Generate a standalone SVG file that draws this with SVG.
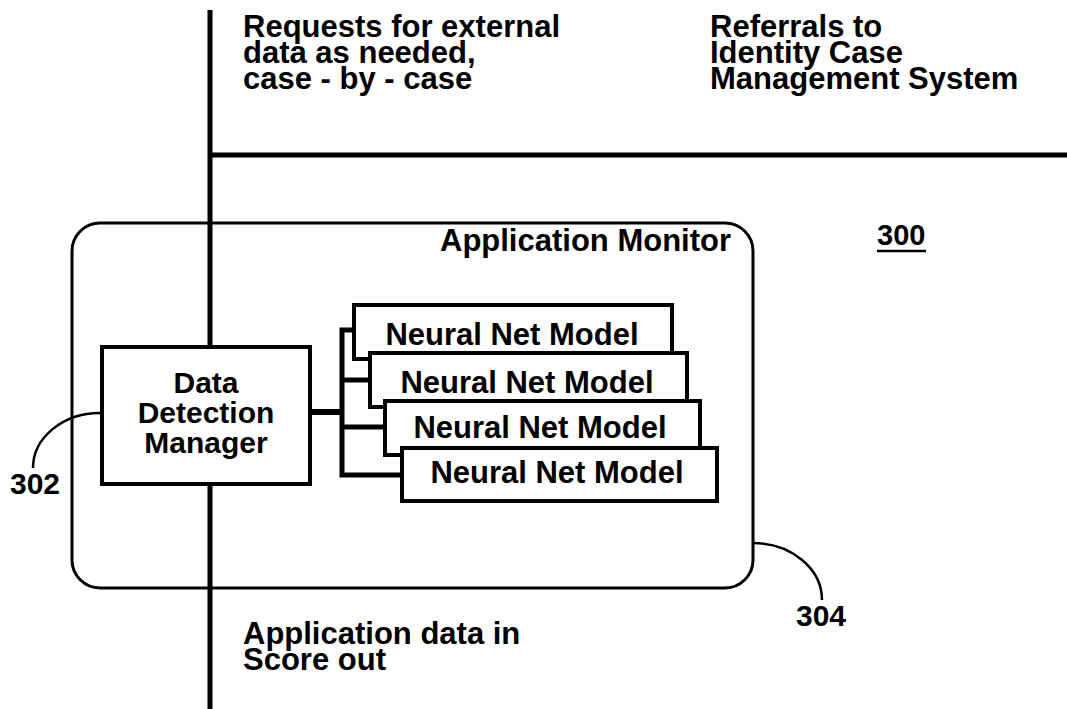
<svg xmlns="http://www.w3.org/2000/svg" width="1067" height="709" viewBox="0 0 1067 709">
<style>
.t{font-family:"Liberation Sans",Arial,sans-serif;font-weight:bold;fill:#000}
.b{fill:#fff;stroke:#000;stroke-width:4}
.ln{fill:none;stroke:#000}
</style>
<rect width="1067" height="709" fill="#fff"/>
<g id="axes">
<line class="ln" x1="210" y1="10" x2="210" y2="709" stroke-width="5"/>
<line class="ln" x1="208" y1="155" x2="1067" y2="155" stroke-width="5"/>
</g>
<g id="labels-top">
<text class="t" font-size="31"><tspan x="243" y="37">Requests for external</tspan><tspan x="243" y="63">data as needed,</tspan><tspan x="243" y="89">case - by - case</tspan></text>
<text class="t" font-size="31"><tspan x="710" y="37">Referrals to</tspan><tspan x="710" y="63">Identity Case</tspan><tspan x="710" y="89">Management System</tspan></text>
</g>
<g id="app-monitor">
<rect x="72" y="223" width="681" height="365" rx="28" ry="28" fill="none" stroke="#000" stroke-width="3"/>
<text class="t" font-size="31" x="440" y="251">Application Monitor</text>
</g>
<g id="ref-300">
<text class="t" font-size="29" x="877" y="245">300</text>
<line class="ln" x1="877" y1="251" x2="926" y2="251" stroke-width="2.5"/>
</g>
<g id="connectors">
<path class="ln" stroke-width="6" d="M310,412 H342"/>
<path class="ln" stroke-width="5" d="M354,330 H342 V475 H402 M342,380 H370 M342,427 H385"/>
<path class="ln" stroke-width="2.5" d="M33,468 A67,55 0 0 1 100,413"/>
<path class="ln" stroke-width="2.5" d="M753,543 A69,57 0 0 1 822,600"/>
</g>
<g id="ddm">
<rect class="b" x="102" y="347" width="208" height="137"/>
<text class="t" font-size="30" text-anchor="middle"><tspan x="206" y="393">Data</tspan><tspan x="206" y="423">Detection</tspan><tspan x="206" y="453">Manager</tspan></text>
</g>
<g id="nn1">
<rect class="b" x="354" y="305" width="318" height="54"/>
<text class="t" font-size="31" text-anchor="middle" x="512" y="345">Neural Net Model</text>
</g>
<g id="nn2">
<rect class="b" x="370" y="353" width="317" height="54"/>
<text class="t" font-size="31" text-anchor="middle" x="527" y="393">Neural Net Model</text>
</g>
<g id="nn3">
<rect class="b" x="385" y="401" width="315" height="54"/>
<text class="t" font-size="31" text-anchor="middle" x="540" y="438">Neural Net Model</text>
</g>
<g id="nn4">
<rect class="b" x="402" y="448" width="315" height="53"/>
<text class="t" font-size="31" text-anchor="middle" x="557" y="483">Neural Net Model</text>
</g>
<g id="ref-302">
<text class="t" font-size="30" x="10" y="494">302</text>
</g>
<g id="ref-304">
<text class="t" font-size="30" x="796" y="626">304</text>
</g>
<g id="labels-bottom">
<text class="t" font-size="31"><tspan x="243" y="644">Application data in</tspan><tspan x="243" y="670">Score out</tspan></text>
</g>
</svg>
